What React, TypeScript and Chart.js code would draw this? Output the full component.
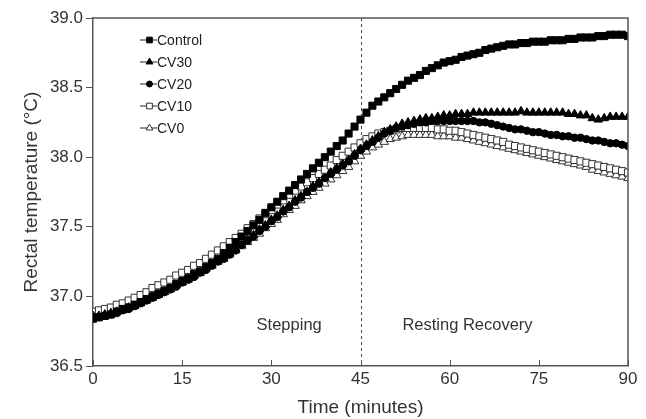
import React, { useEffect, useRef } from "react";
import { Chart, registerables } from "chart.js";

Chart.register(...registerables);

const minutes = [
  0, 1, 2, 3, 4, 5, 6, 7, 8, 9, 10, 11, 12, 13, 14, 15, 16, 17, 18, 19, 20, 21, 22, 23, 24, 25, 26, 27, 28, 29,
  30, 31, 32, 33, 34, 35, 36, 37, 38, 39, 40, 41, 42, 43, 44, 45, 46, 47, 48, 49, 50, 51, 52, 53, 54, 55, 56, 57, 58, 59,
  60, 61, 62, 63, 64, 65, 66, 67, 68, 69, 70, 71, 72, 73, 74, 75, 76, 77, 78, 79, 80, 81, 82, 83, 84, 85, 86, 87, 88, 89, 90,
];

const control = [
  36.84, 36.85, 36.86, 36.87, 36.89, 36.91, 36.92, 36.94, 36.96, 36.98,
  37.0, 37.02, 37.04, 37.06, 37.09, 37.11, 37.13, 37.16, 37.18, 37.21,
  37.24, 37.27, 37.31, 37.35, 37.39, 37.43, 37.47, 37.51, 37.55, 37.6,
  37.64, 37.68, 37.72, 37.76, 37.8, 37.84, 37.88, 37.92, 37.96, 38.0,
  38.04, 38.08, 38.12, 38.17, 38.22, 38.27, 38.32, 38.37, 38.4, 38.43,
  38.46, 38.49, 38.52, 38.55, 38.57, 38.59, 38.62, 38.64, 38.66, 38.68,
  38.69, 38.7, 38.72, 38.73, 38.74, 38.75, 38.77, 38.78, 38.79, 38.8,
  38.81, 38.81, 38.82, 38.82, 38.83, 38.83, 38.83, 38.84, 38.84, 38.84,
  38.85, 38.85, 38.86, 38.86, 38.86, 38.87, 38.87, 38.88, 38.88, 38.88,
  38.87,
];

const cv30 = [
  36.86, 36.86, 36.87, 36.88, 36.89, 36.9, 36.92, 36.93, 36.95, 36.97,
  36.99, 37.01, 37.03, 37.05, 37.08, 37.1, 37.12, 37.15, 37.17, 37.2,
  37.23, 37.25, 37.28, 37.31, 37.34, 37.37, 37.41, 37.44, 37.48, 37.51,
  37.55, 37.58, 37.62, 37.65, 37.69, 37.72, 37.75, 37.79, 37.82, 37.85,
  37.89, 37.92, 37.95, 37.98, 38.02, 38.06, 38.09, 38.12, 38.15, 38.18,
  38.2, 38.22, 38.24, 38.25, 38.26, 38.27, 38.28, 38.28, 38.29, 38.3,
  38.3, 38.31, 38.31, 38.31, 38.32, 38.32, 38.32, 38.32, 38.32, 38.32,
  38.32, 38.32, 38.33, 38.32, 38.32, 38.32, 38.32, 38.32, 38.32, 38.32,
  38.31, 38.31, 38.3, 38.3, 38.28, 38.27, 38.28, 38.29, 38.29, 38.29,
  38.29,
];

const cv20 = [
  36.84, 36.85, 36.86, 36.87, 36.88, 36.9, 36.91, 36.93, 36.95, 36.97,
  36.99, 37.01, 37.03, 37.05, 37.07, 37.1, 37.12, 37.14, 37.17, 37.19,
  37.22, 37.25, 37.27, 37.3, 37.33, 37.37, 37.4, 37.43, 37.47, 37.5,
  37.54, 37.57, 37.61, 37.64, 37.68, 37.71, 37.75, 37.78, 37.81, 37.85,
  37.88, 37.91, 37.94, 37.97, 38.01, 38.05, 38.08, 38.11, 38.14, 38.17,
  38.19, 38.21, 38.22, 38.23, 38.24, 38.25, 38.25, 38.26, 38.26, 38.26,
  38.26, 38.26, 38.26, 38.26, 38.26, 38.25, 38.25, 38.24, 38.23, 38.22,
  38.21, 38.2, 38.2, 38.19, 38.18, 38.18, 38.17, 38.16, 38.16, 38.15,
  38.15, 38.14, 38.14, 38.13, 38.12, 38.12, 38.11, 38.1, 38.1, 38.09,
  38.08,
];

const cv10 = [
  36.89, 36.9, 36.91, 36.92, 36.94, 36.95, 36.97, 36.99, 37.01, 37.03,
  37.06, 37.08, 37.1, 37.12, 37.15, 37.17, 37.19, 37.22, 37.24, 37.27,
  37.3, 37.33, 37.36, 37.39, 37.42, 37.45, 37.49, 37.52, 37.56, 37.59,
  37.62, 37.66, 37.69, 37.73, 37.76, 37.79, 37.82, 37.85, 37.88, 37.91,
  37.94, 37.98, 38.01, 38.04, 38.07, 38.1, 38.13, 38.15, 38.17, 38.18,
  38.19, 38.2, 38.21, 38.21, 38.21, 38.21, 38.21, 38.21, 38.2, 38.2,
  38.19, 38.19, 38.18, 38.17, 38.16, 38.15, 38.14, 38.13, 38.12, 38.11,
  38.09, 38.08, 38.07, 38.06, 38.05, 38.04, 38.03, 38.02, 38.01, 38.0,
  37.99, 37.98, 37.97, 37.96, 37.95, 37.94, 37.93, 37.92, 37.91, 37.9,
  37.89,
];

const cv0 = [
  36.86, 36.87, 36.88, 36.89, 36.9, 36.91, 36.93, 36.94, 36.96, 36.98,
  37.0, 37.02, 37.04, 37.06, 37.08, 37.1, 37.13, 37.15, 37.17, 37.2,
  37.22, 37.25, 37.27, 37.3, 37.33, 37.36, 37.39, 37.42, 37.45, 37.49,
  37.52, 37.55, 37.59, 37.62, 37.65, 37.69, 37.72, 37.75, 37.78, 37.81,
  37.84, 37.87, 37.9, 37.93, 37.97, 38.01, 38.04, 38.07, 38.09, 38.11,
  38.13, 38.14, 38.15, 38.16, 38.16, 38.16, 38.16, 38.16, 38.15, 38.15,
  38.15, 38.14, 38.14, 38.13, 38.12, 38.11, 38.1, 38.09, 38.08, 38.07,
  38.06, 38.05, 38.04, 38.03, 38.02, 38.01, 38.0, 37.99, 37.98, 37.97,
  37.96, 37.95, 37.94, 37.93, 37.91, 37.9, 37.89, 37.88, 37.87, 37.86,
  37.85,
];

const seriesNames = ["Control", "CV30", "CV20", "CV10", "CV0"];
const xTickValues = [0, 15, 30, 45, 60, 75, 90];
const phaseBoundary = 45;
const phaseLabels = [
  { text: "Stepping", x: 33, y: 36.79 },
  { text: "Resting Recovery", x: 63, y: 36.79 },
];

const FONT = "'Liberation Sans', Arial, Helvetica, sans-serif";
const AXIS = "#555";
const TEXT = "#333";

type Sty = { shape: string; fill: string; stroke: string; r: number };
const styles: Sty[] = [
  { shape: "rect", fill: "#000", stroke: "#000", r: 5.0 },
  { shape: "triangle", fill: "#000", stroke: "#000", r: 4.9 },
  { shape: "circle", fill: "#000", stroke: "#000", r: 3.7 },
  { shape: "rect", fill: "#fff", stroke: "#333", r: 5.0 },
  { shape: "triangle", fill: "#fff", stroke: "#333", r: 4.9 },
];

function drawMarker(ctx: CanvasRenderingContext2D, s: Sty, x: number, y: number, r: number) {
  ctx.beginPath();
  if (s.shape === "rect") {
    const h = r * Math.SQRT1_2;
    ctx.rect(x - h, y - h, 2 * h, 2 * h);
  } else if (s.shape === "triangle") {
    const a = r;
    ctx.moveTo(x, y - a);
    ctx.lineTo(x + a * 0.866, y + a * 0.5);
    ctx.lineTo(x - a * 0.866, y + a * 0.5);
    ctx.closePath();
  } else {
    ctx.arc(x, y, r, 0, Math.PI * 2);
  }
  ctx.fillStyle = s.fill;
  ctx.fill();
  ctx.lineWidth = 1;
  ctx.strokeStyle = s.stroke;
  ctx.stroke();
}

const decorPlugin = {
  id: "decor",
  beforeDatasetsDraw(chart: any) {
    const { ctx, chartArea: a, scales } = chart;
    const px = scales.x.getPixelForValue(phaseBoundary);
    ctx.save();
    ctx.strokeStyle = "#444";
    ctx.lineWidth = 1;
    ctx.setLineDash([3, 3]);
    ctx.beginPath();
    ctx.moveTo(Math.round(px) + 0.5, a.top);
    ctx.lineTo(Math.round(px) + 0.5, a.bottom);
    ctx.stroke();
    ctx.restore();
  },
  afterDraw(chart: any) {
    const { ctx, chartArea: a, scales } = chart;
    const xs = scales.x;
    const ys = scales.y;
    ctx.save();
    ctx.strokeStyle = AXIS;
    ctx.lineWidth = 1.5;
    ctx.beginPath();
    ctx.moveTo(a.left, a.top);
    ctx.lineTo(a.right, a.top);
    ctx.lineTo(a.right, a.bottom);
    ctx.stroke();
    ctx.lineWidth = 1;
    ctx.beginPath();
    xTickValues.forEach((v) => {
      const p = Math.round(xs.getPixelForValue(v)) + 0.5;
      ctx.moveTo(p, a.bottom);
      ctx.lineTo(p, a.bottom - 6);
    });
    ctx.stroke();
    ctx.fillStyle = TEXT;
    ctx.font = `16.5px ${FONT}`;
    ctx.textAlign = "center";
    ctx.textBaseline = "middle";
    phaseLabels.forEach((l) => {
      ctx.fillText(l.text, xs.getPixelForValue(l.x), ys.getPixelForValue(l.y));
    });
    ctx.font = `14px ${FONT}`;
    ctx.textAlign = "left";
    seriesNames.forEach((name, i) => {
      const y = a.top + 22 + i * 22;
      const x0 = a.left + 47;
      ctx.strokeStyle = "#222";
      ctx.lineWidth = 1;
      ctx.beginPath();
      ctx.moveTo(x0, y);
      ctx.lineTo(x0 + 17, y);
      ctx.stroke();
      drawMarker(ctx, styles[i], x0 + 9.5, y, styles[i].r * 0.8);
      ctx.fillStyle = "#222";
      ctx.fillText(name, x0 + 17, y + 1);
    });
    ctx.restore();
  },
};

export default function App() {
  const ref = useRef<HTMLCanvasElement | null>(null);
  useEffect(() => {
    if (!ref.current) return;
    const all = [control, cv30, cv20, cv10, cv0];
    const chart = new Chart(ref.current, {
      type: "line",
      data: {
        datasets: all.map((vals, i) => ({
          label: seriesNames[i],
          data: vals.map((v, j) => ({ x: minutes[j], y: v })),
          borderColor: "#000",
          borderWidth: 1,
          pointStyle: styles[i].shape,
          pointRadius: styles[i].r,
          pointBackgroundColor: styles[i].fill,
          pointBorderColor: styles[i].stroke,
          pointBorderWidth: 1,
          tension: 0,
        })),
      },
      options: {
        responsive: false,
        animation: false,
        devicePixelRatio: 1,
        layout: { padding: { top: 18, right: 18, left: 0, bottom: 0 } },
        plugins: { legend: { display: false }, tooltip: { enabled: false } },
        scales: {
          x: {
            type: "linear",
            min: 0,
            max: 90,
            afterFit: (s: any) => {
              s.height = 53;
            },
            afterBuildTicks: (s: any) => {
              s.ticks = xTickValues.map((v) => ({ value: v }));
            },
            ticks: { color: TEXT, font: { size: 17, family: FONT }, padding: 3, maxRotation: 0 },
            grid: { display: true, drawOnChartArea: false, drawTicks: false },
            border: { color: AXIS, width: 1.5 },
            title: {
              display: true,
              text: "Time (minutes)",
              color: TEXT,
              font: { size: 19, family: FONT },
              padding: { top: 0, bottom: 0 },
            },
          },
          y: {
            min: 36.5,
            max: 39.0,
            afterFit: (s: any) => {
              s.width = 93;
            },
            ticks: {
              stepSize: 0.5,
              color: TEXT,
              font: { size: 17, family: FONT },
              padding: 3,
              callback: (v: any) => Number(v).toFixed(1),
            },
            grid: { display: true, drawOnChartArea: false, drawTicks: true, tickLength: 7, color: AXIS },
            border: { color: AXIS, width: 1.5 },
            title: {
              display: true,
              text: "Rectal temperature (°C)",
              color: TEXT,
              font: { size: 19, family: FONT },
              padding: { top: 20, bottom: 20 },
            },
          },
        },
      },
      plugins: [decorPlugin],
    } as any);
    return () => chart.destroy();
  }, []);
  return (
    <div style={{ position: "absolute", left: 0, top: 0, width: 646, height: 419, background: "#fff" }}>
      <canvas ref={ref} width={646} height={419} style={{ display: "block" }} />
    </div>
  );
}
